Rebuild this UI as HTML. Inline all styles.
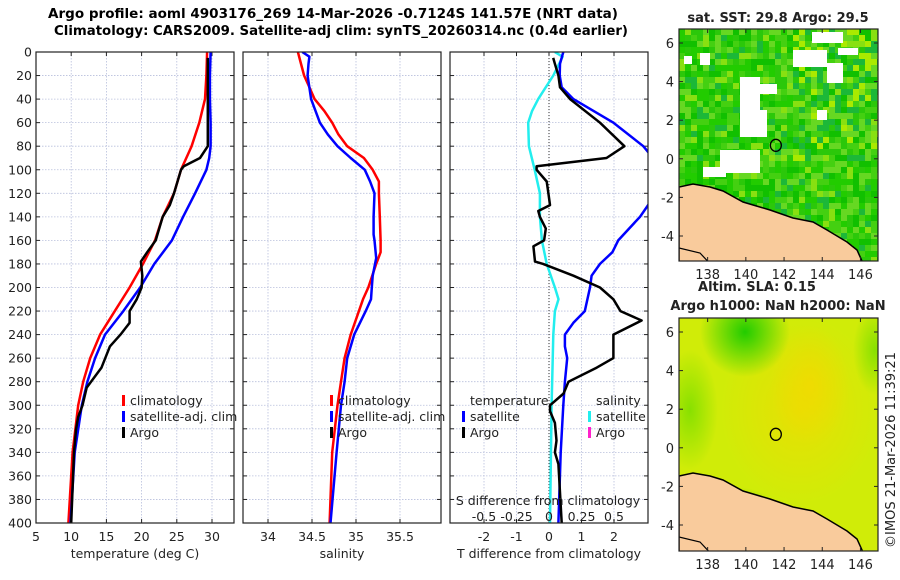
<!DOCTYPE html>
<html><head><meta charset="utf-8"><style>
html,body{margin:0;padding:0;background:#fff;}
svg{display:block;font-family:"DejaVu Sans","Liberation Sans",sans-serif;}
</style></head><body>
<svg id="fig" width="900" height="580" viewBox="0 0 900 580" xmlns="http://www.w3.org/2000/svg">
<defs>
<clipPath id="c1"><rect x="36" y="52" width="198" height="471"/></clipPath>
<clipPath id="c2"><rect x="243" y="52" width="198" height="471"/></clipPath>
<clipPath id="c3"><rect x="450" y="52" width="198" height="471"/></clipPath>
<clipPath id="cm1"><rect x="679" y="29" width="199" height="232"/></clipPath>
<clipPath id="cm2"><rect x="679" y="318" width="199" height="233"/></clipPath>
<radialGradient id="g1" cx="0.5" cy="0.5" r="0.5"><stop offset="0" stop-color="#22cc00"/><stop offset="1" stop-color="#22cc00" stop-opacity="0"/></radialGradient>
<radialGradient id="g2" cx="0.5" cy="0.5" r="0.5"><stop offset="0" stop-color="#f5d800"/><stop offset="1" stop-color="#f5d800" stop-opacity="0"/></radialGradient>
<radialGradient id="g3" cx="0.5" cy="0.5" r="0.5"><stop offset="0" stop-color="#88e000"/><stop offset="1" stop-color="#88e000" stop-opacity="0"/></radialGradient>
</defs>
<text x="333" y="18" font-size="13" font-weight="bold" text-anchor="middle" textLength="570" lengthAdjust="spacingAndGlyphs">Argo profile: aoml 4903176_269 14-Mar-2026 -0.7124S 141.57E (NRT data)</text>
<text x="341" y="35" font-size="13" font-weight="bold" text-anchor="middle" textLength="574" lengthAdjust="spacingAndGlyphs">Climatology: CARS2009. Satellite-adj clim: synTS_20260314.nc (0.4d earlier)</text>
<g id="p1"></g>
<g id="p2"></g>
<g id="p3"></g>
<g id="m1"></g>
<g id="m2"></g>
<text transform="translate(895,450) rotate(-90)" font-size="13" text-anchor="middle" fill="#222">©IMOS 21-Mar-2026 11:39:21</text>
</svg>
<script>
// ---- data ----
const tClimDepth=[0,20,40,60,80,100,120,140,160,180,200,220,240,260,280,300,320,340,360,380,400];
const tClim=[29.3,29.2,29.0,28.2,27.1,25.6,24.6,23.0,21.9,20.2,18.3,16.2,14.1,12.7,11.7,11.0,10.6,10.2,10.0,9.8,9.6];
const tSatDepth=[0,20,40,60,80,90,100,120,140,160,180,200,220,240,260,280,300,340,400];
const tSat=[29.8,29.7,29.7,29.8,29.8,29.6,29.2,27.6,25.9,24.3,21.8,19.8,17.4,14.8,13.4,12.3,11.5,10.5,9.9];
const argoDepth=[5,80,90,97,100,120,130,140,160,170,178,190,200,210,220,230,240,250,268,285,300,310,320,340,400];
const argoT=[29.4,29.4,28.3,26.0,25.6,24.6,24.0,23.0,22.0,20.8,19.9,20.1,20.0,19.3,18.3,18.3,17.0,15.5,14.3,12.2,11.6,11.0,10.7,10.4,10.0];
const sClimDepth=[0,20,30,40,50,60,70,80,90,100,110,120,140,160,170,180,200,210,240,260,280,300,340,400];
const sClim=[34.34,34.41,34.47,34.53,34.64,34.73,34.80,34.90,35.09,35.19,35.26,35.26,35.27,35.28,35.28,35.23,35.14,35.08,34.94,34.87,34.83,34.79,34.73,34.70];
const sSatDepth=[0,4,10,20,40,60,70,80,90,100,110,120,140,155,160,175,190,200,210,220,240,260,280,300,340,400];
const sSat=[34.39,34.47,34.46,34.45,34.49,34.59,34.68,34.79,34.94,35.10,35.16,35.21,35.20,35.20,35.21,35.23,35.19,35.18,35.17,35.11,34.98,34.90,34.87,34.83,34.78,34.71];
const dTsatDepth=[0,10,20,30,40,60,80,100,120,130,140,160,170,180,190,200,220,230,240,250,260,280,300,340,400];
const dTsat=[0.44,0.34,0.33,0.39,0.75,1.98,2.9,3.5,3.3,3.05,2.8,2.13,1.95,1.57,1.31,1.26,1.1,0.75,0.49,0.49,0.56,0.49,0.44,0.36,0.29];
const dTargoDepth=[5,10,20,30,40,60,80,90,97,100,110,120,130,135,140,150,160,165,178,180,190,200,210,220,228,240,260,268,280,290,300,305,315,330,340,350,400];
const dTargo=[0.13,0.18,0.29,0.34,0.65,1.57,2.32,1.77,-0.38,-0.38,-0.07,-0.02,0.03,-0.33,-0.28,-0.1,-0.15,-0.48,-0.43,-0.18,0.75,1.57,1.98,2.2,2.85,1.98,1.98,1.47,0.6,0.45,0.03,0.03,0.18,0.23,0.18,0.29,0.39];
const dSsatDepth=[0,4,20,40,50,60,80,100,120,140,160,180,200,210,220,240,300,400];
const dSsat=[0.045,0.105,0.033,-0.083,-0.13,-0.16,-0.155,-0.11,-0.07,-0.07,-0.055,-0.018,0.045,0.073,0.045,0.033,0.02,0.008];
const depthTicks=[0,20,40,60,80,100,120,140,160,180,200,220,240,260,280,300,320,340,360,380,400];
const tTicks=[5,10,15,20,25,30];
const sTicks=[34,34.5,35,35.5];
const dTicks=[-2,-1,0,1,2];
const dTickLabels=['-2','-1','0','1','2'];
const sdTicks=[-0.5,-0.25,0,0.25,0.5];
const sdTickLabels=['-0.5','-0.25','0','0.25','0.5'];
const latTicks=[-4,-2,0,2,4,6];
const lonTicks=[138,140,142,144,146];

// ---- scales ----
const Y=d=>52+d*471/400;
const XT=v=>36+(v-5)*176/25;
const XS=v=>268+(v-34)*88;
const XD=v=>549+v*32.5;
const XSD=v=>549+v*130;
const NS='http://www.w3.org/2000/svg';
function mk(tag,attrs,parent){const e=document.createElementNS(NS,tag);for(const k in attrs)e.setAttribute(k,attrs[k]);parent.appendChild(e);return e;}
function line(parent,xs,ds,sx,color,w,clip,name){
  const p=xs.map((v,i)=>(i?'L':'M')+sx(v).toFixed(1)+','+Y(ds[i]).toFixed(1)).join('');
  const e=mk('path',{d:p,fill:'none',stroke:color,'stroke-width':w,'stroke-linejoin':'round','clip-path':'url(#'+clip+')'},parent);
  
  
}
function frame(g,x0,vticks,sx,labels,showDepth){
  depthTicks.forEach(d=>{mk('line',{x1:x0,x2:x0+198,y1:Y(d),y2:Y(d),stroke:'#b8bfdc','stroke-width':0.8,'stroke-dasharray':'1.5,1.5'},g);});
  vticks.forEach(v=>{mk('line',{x1:sx(v),x2:sx(v),y1:52,y2:523,stroke:'#b8bfdc','stroke-width':0.8,'stroke-dasharray':'1.5,1.5'},g);});
  depthTicks.forEach(d=>{mk('line',{x1:x0,x2:x0+4,y1:Y(d),y2:Y(d),stroke:'#222'},g);mk('line',{x1:x0+194,x2:x0+198,y1:Y(d),y2:Y(d),stroke:'#222'},g);
    if(showDepth){const t=mk('text',{x:x0-4,y:Y(d)+4.5,'font-size':12.5,'text-anchor':'end',fill:'#222'},g);t.textContent=d;
      
      }});
  vticks.forEach((v,i)=>{mk('line',{x1:sx(v),x2:sx(v),y1:52,y2:56,stroke:'#222'},g);mk('line',{x1:sx(v),x2:sx(v),y1:519,y2:523,stroke:'#222'},g);
    const t=mk('text',{x:sx(v),y:541,'font-size':12.5,'text-anchor':'middle',fill:'#222'},g);t.textContent=labels[i];
    
    });
}
function border(g,x0){mk('rect',{x:x0,y:52,width:198,height:471,fill:'none',stroke:'#222','stroke-width':1.2},g);}
function txt(g,x,y,s,name,anchor,size){const t=mk('text',{x:x,y:y,'font-size':size||12.5,'text-anchor':anchor||'start',fill:'#222'},g);t.textContent=s;
  
  return t;}
function mark(g,x,y,c){mk('rect',{x:x,y:y-10,width:3,height:11,fill:c},g);}

// panel 1
const p1=document.getElementById('p1');
frame(p1,36,tTicks,XT,tTicks.map(String),true);
line(p1,tClim,tClimDepth,XT,'#ff0000',2.5,'c1','temp-climatology-line');
line(p1,tSat,tSatDepth,XT,'#0000ff',2.5,'c1','temp-satellite-line');
line(p1,argoT,argoDepth,XT,'#000',2.5,'c1','temp-argo-line');
border(p1,36);
txt(p1,135,558,'temperature (deg C)','temperature-axis-title','middle');
mark(p1,122,405,'#ff0000');txt(p1,130,405,'climatology','legend-climatology');
mark(p1,122,421,'#0000ff');txt(p1,130,421,'satellite-adj. clim','legend-satellite');
mark(p1,122,437,'#000');txt(p1,130,437,'Argo','legend-argo');
// panel 2
const p2=document.getElementById('p2');
frame(p2,243,sTicks,XS,['34','34.5','35','35.5'],false);
line(p2,sClim,sClimDepth,XS,'#ff0000',2.5,'c2','sal-climatology-line');
line(p2,sSat,sSatDepth,XS,'#0000ff',2.5,'c2','sal-satellite-line');
border(p2,243);
txt(p2,342,558,'salinity','salinity-axis-title','middle');
mark(p2,330,405,'#ff0000');txt(p2,338,405,'climatology','legend-climatology');
mark(p2,330,421,'#0000ff');txt(p2,338,421,'satellite-adj. clim','legend-satellite');
mark(p2,330,437,'#000');txt(p2,338,437,'Argo','legend-argo');
// panel 3
const p3=document.getElementById('p3');
frame(p3,450,dTicks,XD,dTickLabels,false);
mk('line',{x1:XD(0),x2:XD(0),y1:52,y2:523,stroke:'#333','stroke-width':1,'stroke-dasharray':'1,2'},p3);
line(p3,dSsat,dSsatDepth,XSD,'#22eeee',2.5,'c3','sal-diff-satellite-line');
line(p3,dTsat,dTsatDepth,XD,'#0000ff',2.5,'c3','temp-diff-satellite-line');
line(p3,dTargo,dTargoDepth,XD,'#000',2.5,'c3','temp-diff-argo-line');
border(p3,450);
txt(p3,549,558,'T difference from climatology','tdiff-axis-title','middle');
txt(p3,548,505,'S difference from climatology','sdiff-axis-title','middle');
sdTicks.forEach((v,i)=>txt(p3,XSD(v),521,sdTickLabels[i],'sdiff-tick-label','middle'));
txt(p3,470,405,'temperature','legend-temperature-header');
mark(p3,462,421,'#0000ff');txt(p3,470,421,'satellite','legend-temp-satellite');
mark(p3,462,437,'#000');txt(p3,470,437,'Argo','legend-temp-argo');
txt(p3,596,405,'salinity','legend-salinity-header');
mark(p3,588,421,'#22eeee');txt(p3,596,421,'satellite','legend-sal-satellite');
mark(p3,588,437,'#ff22cc');txt(p3,596,437,'Argo','legend-sal-argo');

// ---- maps ----
function mapAxes(g,y0,h){
  const LX=v=>679+(v-136.5)*19.1;
  const LY=v=>y0+14+(6-v)*19.3;
  latTicks.forEach(v=>{mk('line',{x1:679,x2:683,y1:LY(v),y2:LY(v),stroke:'#222'},g);mk('line',{x1:874,x2:878,y1:LY(v),y2:LY(v),stroke:'#222'},g);
    txt(g,674,LY(v)+5,String(v),'lat-tick-label','end',13);});
  lonTicks.forEach(v=>{mk('line',{x1:LX(v),x2:LX(v),y1:y0+h-4,y2:y0+h,stroke:'#222'},g);mk('line',{x1:LX(v),x2:LX(v),y1:y0,y2:y0+4,stroke:'#222'},g);
    txt(g,LX(v),y0+h+18,String(v),'lon-tick-label','middle',13);});
  mk('rect',{x:679,y:y0,width:199,height:h,fill:'none',stroke:'#222','stroke-width':1.2},g);
  mk('ellipse',{cx:LX(141.57),cy:LY(0.7),rx:5.5,ry:6,fill:'none',stroke:'#000','stroke-width':1.3},g);
}
function land(g,y0,clip){
  const pts=[[679,158],[693,155],[710,158],[723,162],[743,173],[770,181],[793,189],[813,193],[827,201],[847,213],[857,221],[862,232],[862,240],[679,240]];
  const d='M'+pts.map(p=>p[0]+','+(p[1]+y0)).join('L')+'Z';
  mk('path',{d:d,fill:'#f9cb9c',stroke:'#000','stroke-width':1.5,'clip-path':'url(#'+clip+')'},g);
  mk('path',{d:'M679,'+(y0+219)+'L700,'+(y0+224)+'L715,'+(y0+240),fill:'none',stroke:'#000','stroke-width':1.2,'clip-path':'url(#'+clip+')'},g);
}
// SST mosaic (texture)
const m1=document.getElementById('m1');
const cols=['#22cc00','#2bc80a','#44d011','#11c000','#66d822','#1cb838','#88e011','#aaea00','#22cc00'];
let seed=7;function rnd(){seed=(seed*16807)%2147483647;return seed/2147483647;}
const gm=mk('g',{'clip-path':'url(#cm1)'},m1);
mk('rect',{x:679,y:29,width:199,height:232,fill:'#2cc808'},gm);
for(let yy=29;yy<261;yy+=6)for(let xx=679;xx<878;xx+=6){const r=rnd();const east=(xx>790&&yy<160)?1:0;
  mk('rect',{x:xx,y:yy,width:6.2,height:6.2,fill:cols[Math.min(7,Math.floor(r*6)+east+(r>0.9?1:0))]},gm);}
[[812,32,31,11],[793,50,34,17],[827,63,16,20],[740,77,20,33],[757,84,20,10],[740,110,27,27],[720,150,40,23],[703,167,23,10],[817,110,10,10],[684,56,8,8],[700,53,10,12],[838,48,20,7]].forEach(r=>mk('rect',{x:r[0],y:r[1],width:r[2],height:r[3],fill:'#fff'},gm));
land(m1,29,'cm1');
mapAxes(m1,29,232);
txt(m1,778,22,'sat. SST: 29.8 Argo: 29.5','sst-map-title','middle',13).setAttribute('font-weight','bold');
// SLA map
const m2=document.getElementById('m2');
const g2=mk('g',{'clip-path':'url(#cm2)'},m2);
mk('rect',{x:679,y:318,width:199,height:233,fill:'#d0ec08'},g2);
mk('ellipse',{cx:800,cy:410,rx:80,ry:95,fill:'url(#g2)',opacity:0.6},g2);
mk('ellipse',{cx:810,cy:385,rx:40,ry:60,fill:'url(#g2)',opacity:0.7},g2);
mk('ellipse',{cx:745,cy:332,rx:45,ry:45,fill:'url(#g1)'},g2);
mk('ellipse',{cx:690,cy:410,rx:28,ry:60,fill:'url(#g3)'},g2);
mk('ellipse',{cx:735,cy:515,rx:45,ry:28,fill:'url(#g1)',opacity:0.8},g2);
mk('ellipse',{cx:875,cy:350,rx:22,ry:45,fill:'url(#g3)'},g2);
mk('ellipse',{cx:700,cy:500,rx:25,ry:20,fill:'url(#g3)'},g2);
land(m2,318,'cm2');
mapAxes(m2,318,233);
txt(m2,757,291,'Altim. SLA: 0.15','sla-title-line-1','middle',13).setAttribute('font-weight','bold');
txt(m2,778,310,'Argo h1000: NaN h2000: NaN','sla-title-line-2','middle',13).setAttribute('font-weight','bold');
</script>
</body></html>
